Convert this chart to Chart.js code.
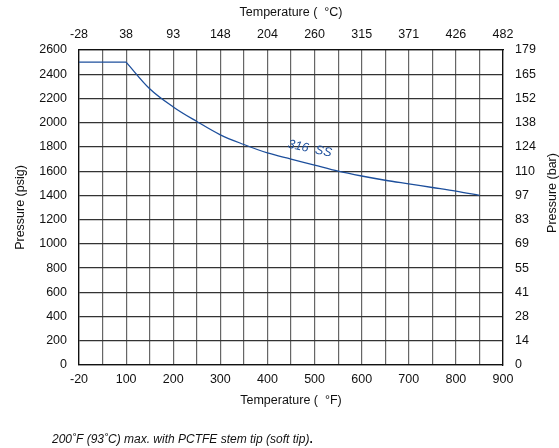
<!DOCTYPE html>
<html>
<head>
<meta charset="utf-8">
<script src="https://cdn.jsdelivr.net/npm/chart.js"></script>
<style>
    html, body { margin: 0; padding: 0; background: #fff; }
    #wrap { width: 559px; height: 448px; position: relative; }
</style>
</head>
<body>
<div id="wrap"><canvas id="pt"></canvas></div>
<script>
// 温度轴: 0 位置标为 -20 °F
const tempF = [0, 100, 150, 200, 250, 300, 350, 400, 450, 500, 550, 600, 650, 700, 750, 800, 850];
const pressurePsig = [2500, 2500, 2280, 2130, 2010, 1900, 1820, 1750, 1700, 1650, 1600, 1560, 1525, 1495, 1465, 1435, 1400];

const fLabels = ['-20', '100', '200', '300', '400', '500', '600', '700', '800', '900'];
const cLabels = ['-28', '38', '93', '148', '204', '260', '315', '371', '426', '482'];
const barLabels = ['0', '14', '28', '41', '55', '69', '83', '97', '110', '124', '138', '152', '165', '179'];

const FONT = "'Liberation Sans', Arial, sans-serif";
const baseFont = { family: FONT, size: 12.5 };
const LINE = '#1d4f9c';

const pts = tempF.map((t, i) => ({ x: t, y: pressurePsig[i] }));

// 曲线标注、右侧标题与脚注
const notes = {
    id: 'notes',
    afterDraw(chart) {
        const ctx = chart.ctx;
        const x = chart.scales.x, y = chart.scales.y;
        ctx.save();
        ctx.translate(x.getPixelForValue(490), y.getPixelForValue(1785));
        ctx.rotate(12 * Math.PI / 180);
        ctx.fillStyle = LINE;
        ctx.font = 'italic 12.5px ' + FONT;
        ctx.textAlign = 'center';
        ctx.textBaseline = 'middle';
        ctx.fillText('316  SS', 0, 0);
        ctx.restore();

        ctx.save();
        ctx.translate(553, 193);
        ctx.rotate(-Math.PI / 2);
        ctx.fillStyle = '#111';
        ctx.font = '12.5px ' + FONT;
        ctx.textAlign = 'center';
        ctx.textBaseline = 'middle';
        ctx.fillText('Pressure (bar)', 0, 0);
        ctx.restore();

        ctx.save();
        ctx.fillStyle = '#111';
        ctx.font = 'italic 12px ' + FONT;
        ctx.textBaseline = 'middle';
        const txt = '200\u02DAF (93\u02DAC) max. with PCTFE stem tip (soft tip)';
        ctx.fillText(txt, 52, 440);
        const w = ctx.measureText(txt).width;
        ctx.font = 'bold 12px ' + FONT;
        ctx.fillText('.', 52 + w, 440);
        ctx.restore();
    }
};

new Chart(document.getElementById('pt'), {
    type: 'line',
    data: {
        datasets: [{
            // 平直段
            data: pts.slice(0, 2),
            borderColor: LINE, borderWidth: 1.3, pointRadius: 0, tension: 0,
            xAxisID: 'x', yAxisID: 'y'
        }, {
            // 下降曲线
            data: pts.slice(1),
            borderColor: LINE, borderWidth: 1.3, pointRadius: 0,
            cubicInterpolationMode: 'monotone',
            xAxisID: 'x', yAxisID: 'y'
        }]
    },
    options: {
        responsive: true,
        maintainAspectRatio: false,
        animation: false,
        layout: { padding: { left: 13, right: 0, top: 5, bottom: 40 } },
        plugins: { legend: { display: false }, tooltip: { enabled: false } },
        scales: {
            x: {
                type: 'linear', position: 'bottom', min: 0, max: 900,
                afterFit: s => { s.height = 43; },
                ticks: {
                    stepSize: 50, autoSkip: false, maxRotation: 0, padding: 7,
                    color: '#111', font: baseFont,
                    callback: v => (v % 100 === 0 ? fLabels[v / 100] : '')
                },
                grid: { color: '#666', lineWidth: 1.2, drawTicks: false },
                border: { color: '#111', width: 1.3 },
                title: { display: true, text: 'Temperature (  \u00B0F)', color: '#111', font: baseFont, padding: { top: 2, bottom: 0 } }
            },
            x2: {
                type: 'linear', position: 'top', min: 0, max: 900,
                afterFit: s => { s.height = 45; },
                ticks: {
                    stepSize: 100, autoSkip: false, maxRotation: 0, padding: 8,
                    color: '#111', font: baseFont,
                    callback: v => cLabels[v / 100]
                },
                grid: { display: false, drawTicks: false },
                border: { color: '#111', width: 1.3 },
                title: { display: true, text: 'Temperature (  \u00B0C)', color: '#111', font: baseFont, padding: { top: 0, bottom: 4 } }
            },
            y: {
                type: 'linear', position: 'left', min: 0, max: 2600,
                afterFit: s => { s.width = 66; },
                ticks: { stepSize: 200, padding: 12, color: '#111', font: baseFont, callback: v => String(v) },
                grid: { color: '#333', lineWidth: 1.2, drawTicks: false },
                border: { color: '#111', width: 1.3 },
                title: { display: true, text: 'Pressure (psig)', color: '#111', font: baseFont, padding: { top: 0, bottom: 4 } }
            },
            y2: {
                type: 'linear', position: 'right', min: 0, max: 2600,
                afterFit: s => { s.width = 56; },
                ticks: {
                    stepSize: 200, padding: 12, color: '#111', font: baseFont,
                    callback: v => barLabels[v / 200]
                },
                grid: { display: false, drawTicks: false },
                border: { color: '#111', width: 1.3 }
            }
        }
    },
    plugins: [notes]
});
</script>
</body>
</html>
